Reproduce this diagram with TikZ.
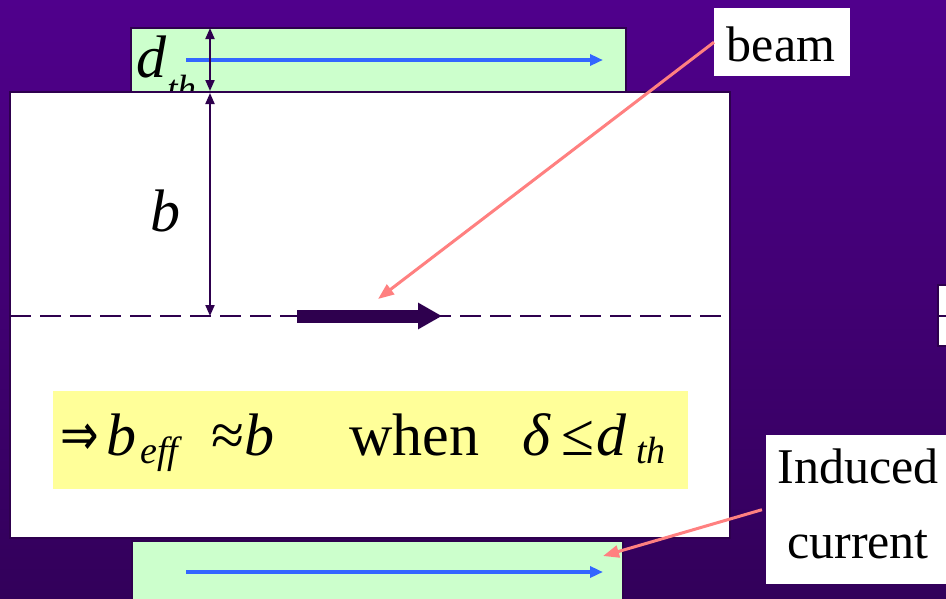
\documentclass[tikz,border=0pt]{standalone}
\usepackage{graphicx}
\usepackage{fontspec}
\setmainfont{Liberation Serif}
\newfontfamily\dvsans{DejaVu Sans}
\usetikzlibrary{arrows.meta}
\definecolor{bgtop}{RGB}{80,0,140}
\definecolor{bgbot}{RGB}{50,0,90}
\definecolor{darkp}{RGB}{46,0,78}
\definecolor{cugreen}{RGB}{204,255,204}
\definecolor{hlyellow}{RGB}{255,255,153}
\definecolor{ptrpink}{RGB}{255,128,128}
\definecolor{curblue}{RGB}{51,102,255}
\newcommand\fsbig{\fontsize{60}{70}\selectfont}
\newcommand\fslab{\fontsize{50}{60}\selectfont}
\newcommand\fssub{\fontsize{38}{44}\selectfont}
\begin{document}
\begin{tikzpicture}[x=1pt,y=-1pt,
  txt/.style={inner sep=0pt, anchor=base west, text=black},
  labelbox/.style={fill=white, inner sep=0pt, anchor=north west},
  ptr/.style={draw=ptrpink, line width=3pt, -{Triangle[length=16pt,width=12pt]}},
  cur/.style={draw=curblue, line width=3.4pt, -{Triangle[length=13pt,width=11pt]}},
  dim/.style={draw=darkp, line width=2pt, {Triangle[length=11pt,width=9pt]}-{Triangle[length=11pt,width=9pt]}},
  plate/.style={fill=cugreen, draw=darkp, line width=2.4pt}]
\useasboundingbox (0,0) rectangle (946,598);
\shade[top color=bgtop, bottom color=bgbot] (0,0) rectangle (946,598);
% conductor plates
\path[plate] (131,28) rectangle (626,92);
\path[plate] (132,541) rectangle (623,610);
% d_th label (partly hidden by the white box)
\node[txt] (dl) at (136,77) {\fsbig\itshape d};
\node[txt] (dsub) at (167,101) {\fssub\itshape th};
% white region
\path[fill=white, draw=darkp, line width=2.4pt] (10,92) rectangle (730,538);
% white piece at the right edge
\path[fill=white, draw=darkp, line width=2.4pt] (938,285) rectangle (952,346);
% yellow formula box
\fill[hlyellow] (53,391) rectangle (688,489);
% beam axis
\draw[darkp, line width=2.4pt, dash pattern=on 21pt off 9pt] (10,316) -- (730,316);
\draw[darkp, line width=2.4pt, dash pattern=on 21pt off 9pt] (938,316) -- (946,316);
% currents
\coordinate (c1s) at (186,60); \coordinate (c1e) at (603,60);
\coordinate (c2s) at (186,572); \coordinate (c2e) at (603,572);
\draw[cur] (c1s) -- (c1e);
\draw[cur] (c2s) -- (c2e);
% dimension arrows
\coordinate (dtop) at (210,28); \coordinate (dmid1) at (210,91);
\coordinate (dmid2) at (210,93); \coordinate (daxis) at (210,316);
\draw[dim] (dtop) -- (dmid1);
\draw[dim] (dmid2) -- (daxis);
\node[txt] (bl) at (150,231) {\fsbig\itshape b};
% beam arrow
\coordinate (bs) at (297,316); \coordinate (be) at (442,316);
\draw[darkp, line width=13pt, -{Triangle[length=24pt,width=25pt]}] (bs) -- (be);
% formula
\node[txt] (f1) at (60,455) {\scalebox{1}[1.3]{\fontsize{46}{50}\selectfont\dvsans ⇒}};
\node[txt] (f2) at (106,455) {\fsbig\itshape b};
\node[txt] (f3) at (140,463) {\fssub\itshape eff};
\node[txt] (f4) at (211,455) {\fsbig ≈};
\node[txt] (f5) at (244,455) {\fsbig\itshape b};
\node[txt] (f6) at (349,455) {\fsbig when};
\node[txt] (f7) at (522,455) {\fsbig\itshape δ};
\node[txt] (f8) at (561,455) {\fsbig ≤};
\node[txt] (f9) at (596,455) {\fsbig\itshape d};
\node[txt] (f10) at (636,463) {\fssub\itshape th};
% labels
\node[labelbox, minimum width=136pt, minimum height=68pt] (beam) at (714,8) {};
\node[txt, anchor=base] (beamt) at (781,61) {\fslab beam};
\node[labelbox, minimum width=184pt, minimum height=149pt] (ind) at (766,435) {};
\node[txt, anchor=base] (ind1) at (858,483) {\fslab Induced};
\node[txt, anchor=base] (ind2) at (858,558) {\fslab current};
% pointers
\coordinate (btip) at (378,299);
\coordinate (itip) at (603,556);
\draw[ptr] (beam.west) -- (btip);
\draw[ptr] (ind.west) ++(-4,0) coordinate (istart) (istart) -- (itip);
\end{tikzpicture}
\end{document}
